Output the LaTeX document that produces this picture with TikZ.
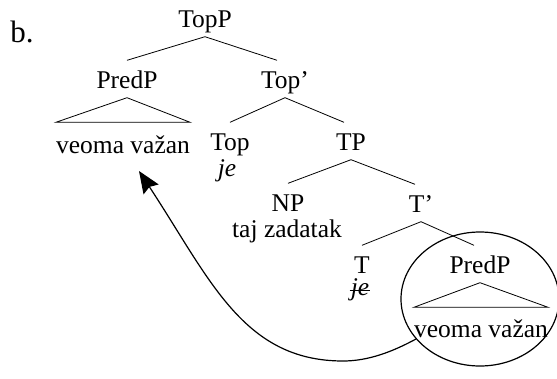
\documentclass[tikz,border=0pt]{standalone}
\usepackage{fontspec}
\setmainfont{Liberation Serif}
\usetikzlibrary{arrows.meta,shapes.geometric}

\begin{document}
\begin{tikzpicture}[x=1pt,y=-1pt,
    cat/.style={anchor=base,inner xsep=0pt,inner ysep=4pt,
      text height=23.5pt,text depth=5.5pt,font=\fontsize{25.5}{30}\selectfont},
    word/.style={anchor=base,inner sep=1pt,font=\fontsize{25.5}{30}\selectfont}]
  \useasboundingbox (0,0) rectangle (557,378);
  \draw
    (22,42) node[anchor=base,font=\fontsize{31}{36}\selectfont] (label){b.}
    (205,27) node[cat] (TopP){TopP}
    (127,88) node[cat] (PredP){PredP}
    (285,88) node[cat] (Topbar){Top’}
    (123,153) node[cat] (vv){veoma važan}
    (230,150) node[cat] (Top){Top}
    (227,176) node[word] (topje){\textit{je}}
    (351,150) node[cat] (TP){TP}
    (288,211) node[cat] (NP){NP}
    (287,237) node[word] (zadatak){taj zadatak}
    (421,212) node[cat] (Tbar){T’}
    (362,273) node[cat] (T){T}
    (360,295) node[word] (tje){\textit{je}}
    (480,273) node[cat] (PredPlow){PredP}
    (481,337) node[cat] (vvlow){veoma važan};
  \begin{scope}[-,line width=0.8pt]
    \draw (TopP.south) to (PredP.north);
    \draw (TopP.south) to ([xshift=-8pt]Topbar.north);
    \draw (PredP.south) -- ([yshift=3pt]vv.north east) -- ([yshift=3pt]vv.north west) -- cycle;
    \draw (Topbar.south) to (Top.north);
    \draw (Topbar.south) to ([xshift=-7pt]TP.north);
    \draw (TP.south) to (NP.north);
    \draw (TP.south) to ([xshift=-6pt]Tbar.north);
    \draw (Tbar.south) to (T.north);
    \draw (Tbar.south) to ([xshift=-6pt]PredPlow.north);
    \draw (PredPlow.south) -- ([yshift=2pt]vvlow.north east) -- ([yshift=2pt]vvlow.north west) -- cycle;
    % struck-out copy of je
    \draw ([yshift=4.5pt]tje.base west) to ([yshift=4.5pt]tje.base east);
  \end{scope}
  \node[draw,ellipse,line width=1.2pt,minimum width=158pt,minimum height=134pt] (ring) at (480,299) {};
  \coordinate (dip) at (343,361);
  \coordinate (tip) at (139,171);
  \draw[-{Stealth[length=22pt,width=18pt,inset=3pt]},line width=1.2pt]
    (ring.212) .. controls (392,352) and (368,361) .. (dip)
    .. controls (243,361) and (210,279) .. (tip);
\end{tikzpicture}
\end{document}
